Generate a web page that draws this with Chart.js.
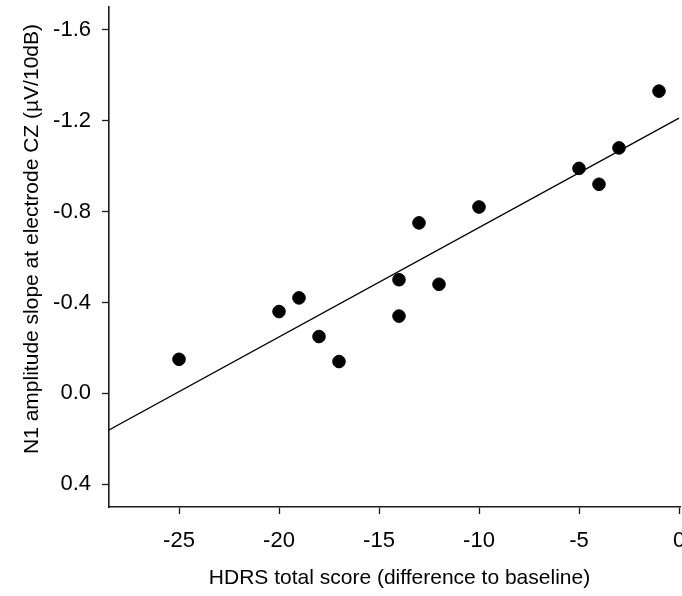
<!DOCTYPE html>
<html>
<head>
<meta charset="utf-8">
<script src="https://cdn.jsdelivr.net/npm/chart.js@4"></script>
<style>
  html, body { margin: 0; padding: 0; background: #fff; }
  #wrap { width: 682px; height: 596px; }
</style>
</head>
<body>
<div id="wrap"><canvas id="graph" width="682" height="596"></canvas></div>
<script>
// HDRS change vs. N1 amplitude slope, one point per patient
var hdrsChange = [-25, -20, -19, -18, -17, -14, -14, -13, -12, -10, -5, -4, -3, -1];
var n1Slope = [-0.15, -0.36, -0.42, -0.25, -0.14, -0.50, -0.34, -0.75, -0.48, -0.82, -0.99, -0.92, -1.08, -1.33];

var xTicks = [-25, -20, -15, -10, -5, 0];
var yTicks = [-1.6, -1.2, -0.8, -0.4, 0.0, 0.4];
var xRange = [-28.5, 0.05];
var yRange = [-1.7, 0.5];

var xTitle = 'HDRS total score (difference to baseline)';
var yTitle = 'N1 amplitude slope at electrode CZ (\u00b5V/10dB)';

var fontFamily = "'Liberation Sans', Arial, sans-serif";

// least squares fit for the regression line
const fitLine = (xs, ys) => {
    var n = xs.length;
    var mx = xs.reduce((a, b) => a + b, 0) / n;
    var my = ys.reduce((a, b) => a + b, 0) / n;
    var sxy = 0, sxx = 0;
    for (var i = 0; i < n; i++) {
        sxy += (xs[i] - mx) * (ys[i] - my);
        sxx += (xs[i] - mx) * (xs[i] - mx);
    }
    var slope = sxy / sxx;
    return { slope: slope, intercept: my - slope * mx };
};

// no extra room for overhanging tick labels
const noPadding = (scale) => {
    scale.paddingLeft = 0;
    scale.paddingRight = 0;
    scale.paddingTop = 0;
    scale.paddingBottom = 0;
};

// axis titles sit a little off centre, so they are drawn by hand
const axisTitles = {
    id: 'axisTitles',
    afterDraw: (chart) => {
        var ctx = chart.ctx;
        var area = chart.chartArea;
        ctx.save();
        ctx.fillStyle = '#000';
        ctx.font = '21px ' + fontFamily;
        ctx.textAlign = 'center';
        ctx.textBaseline = 'middle';
        ctx.fillText(xTitle, (area.left + area.right) / 2 + 5, 578);
        ctx.translate(32, (area.top + area.bottom) / 2 - 18);
        ctx.rotate(-Math.PI / 2);
        ctx.fillText(yTitle, 0, 0);
        ctx.restore();
    }
};

const showGraph = () => {

    var points = [];
    for (var i in hdrsChange) {
        points.push({ x: hdrsChange[i], y: n1Slope[i] });
    }

    var fit = fitLine(hdrsChange, n1Slope);
    var linePts = [xRange[0], 0].map(x => ({ x: x, y: fit.intercept + fit.slope * x }));

    var tickFont = { family: fontFamily, size: 22 };
    var axisColor = '#1a1a1a';

    new Chart(document.getElementById('graph'), {
        type: 'scatter',
        data: {
            datasets: [
                {
                    label: 'patients',
                    data: points,
                    backgroundColor: '#000',
                    borderColor: '#000',
                    pointRadius: 6.3,
                    pointHoverRadius: 6.3
                },
                {
                    label: 'fit',
                    data: linePts,
                    showLine: true,
                    borderColor: '#000',
                    borderWidth: 1.3,
                    pointRadius: 0,
                    fill: false
                }
            ]
        },
        options: {
            responsive: false,
            animation: false,
            layout: { autoPadding: false, padding: { top: 7, right: 2, left: 0, bottom: 0 } },
            plugins: {
                legend: { display: false },
                tooltip: { enabled: false }
            },
            scales: {
                x: {
                    type: 'linear',
                    min: xRange[0],
                    max: xRange[1],
                    afterBuildTicks: (scale) => { scale.ticks = xTicks.map(v => ({ value: v })); },
                    afterFit: (scale) => {
                        scale.height = 89;
                        noPadding(scale);
                    },
                    grid: { display: true, drawOnChartArea: false, drawTicks: true, tickLength: 7, color: axisColor, tickWidth: 1.3 },
                    border: { display: true, color: axisColor, width: 1.6 },
                    ticks: {
                        color: '#000',
                        font: tickFont,
                        padding: 14,
                        maxRotation: 0,
                        callback: (v) => String(v)
                    }
                },
                y: {
                    type: 'linear',
                    reverse: true,
                    min: yRange[0],
                    max: yRange[1],
                    afterBuildTicks: (scale) => { scale.ticks = yTicks.map(v => ({ value: v })); },
                    afterFit: (scale) => {
                        scale.width = 109;
                        noPadding(scale);
                    },
                    grid: { display: true, drawOnChartArea: false, drawTicks: true, tickLength: 7, color: axisColor, tickWidth: 1.3 },
                    border: { display: true, color: axisColor, width: 1.6 },
                    ticks: {
                        color: '#000',
                        font: tickFont,
                        padding: 11,
                        callback: (v) => v.toFixed(1)
                    }
                }
            }
        },
        plugins: [axisTitles]
    });
};

showGraph();
</script>
</body>
</html>
